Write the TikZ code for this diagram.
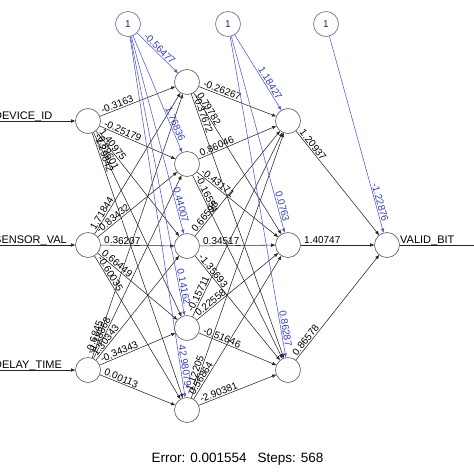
\documentclass[tikz,border=0pt]{standalone}
\usepackage{fontspec}
\setmainfont{Liberation Sans}
\usetikzlibrary{calc,arrows.meta}
\definecolor{biasblue}{RGB}{50,60,200}
\begin{document}
\begin{tikzpicture}[x=1pt,y=-1pt,
    neuron/.style={circle,draw=black!65,line width=0.6pt,minimum size=25pt,inner sep=0pt},
    biasneuron/.style={neuron,draw=biasblue!40!gray,text=biasblue!60!black,font=\fontsize{10}{12}\selectfont},
    wire/.style={draw=black!85,line width=0.55pt,-{Triangle[length=4pt,width=3.2pt]}},
    biaswire/.style={wire,draw=biasblue!85!white},
    weight/.style={font=\fontsize{10}{12}\selectfont,inner sep=1pt,sloped},
    varname/.style={font=\fontsize{11}{13}\selectfont,inner sep=0pt,anchor=base west}]
  \useasboundingbox (0,0) rectangle (474,474);
  \clip (0,0) rectangle (474,474);
  \node[biasneuron] (b1) at (128,24) {1};
  \node[biasneuron] (b2) at (228,24) {1};
  \node[biasneuron] (b3) at (326,24) {1};
  \node[neuron] (i1) at (88,121) {};
  \node[neuron] (i2) at (88,245) {};
  \node[neuron] (i3) at (88,370) {};
  \foreach \k/\y in {1/82,2/164,3/246,4/328,5/410}
    \node[neuron] (h\k) at (187,\y) {};
  \node[neuron] (g1) at (288,121) {};
  \node[neuron] (g2) at (288,245) {};
  \node[neuron] (g3) at (288,370) {};
  \node[neuron] (o) at (387,245) {};
  \foreach \n/\lab in {i1/DEVICE\_ID,i2/SENSOR\_VAL,i3/DELAY\_TIME} {
    \coordinate (\n in) at ($(\n)+(-94,0)$);
    \node[varname] (\n txt) at ($(\n in)+(0,-2)$) {\lab};
    \draw[wire] (\n in) -- (\n);
  }
  \coordinate (oout) at (474,245);
  \draw[draw=black!85,line width=0.55pt] (o) -- (oout);
  \node[varname] (otxt) at (400,243) {VALID\_BIT};
  \foreach \src/\dst/\w in {i1/h1/-0.3163,i1/h2/-0.25179,i1/h3/1.40975,i1/h4/-0.89601,i1/h5/-1.29842,
      i2/h1/1.71844,i2/h2/-0.83432,i2/h3/0.36207,i2/h4/0.66449,i2/h5/-0.60035,
      i3/h1/-0.6845,i3/h2/-1.18868,i3/h3/1.30343,i3/h4/-0.34343,i3/h5/0.00113,
      h1/g1/-0.26267,h1/g2/0.79782,h1/g3/-0.37672,
      h2/g1/0.86046,h2/g2/-0.43171,h2/g3/-0.16554,
      h3/g1/0.66598,h3/g2/0.34517,h3/g3/-1.35693,
      h4/g1/-0.15711,h4/g2/0.22558,h4/g3/-0.51646,
      h5/g1/-1.12205,h5/g2/0.56864,h5/g3/-2.90381,
      g1/o/1.20937,g2/o/1.40747,g3/o/0.86578} {
    \draw[wire] (\src) -- (\dst);
    \path ($(\src)!15pt!(\dst)$) -- (\dst) node[weight,pos=0,anchor=south west] {\w};
  }
  \foreach \src/\dst/\w in {b1/h1/-0.56477,b1/h2/1.76836,b1/h3/0.44007,b1/h4/0.14162,b1/h5/42.98079,
      b2/g1/1.18427,b2/g2/0.0763,b2/g3/0.86287,b3/o/-1.22876} {
    \draw[biaswire] (\src) -- (\dst);
    \path (\src) -- ($(\dst)!22pt!(\src)$) node[weight,pos=1,anchor=south east,text=biasblue] {\w};
  }
  \node[font=\fontsize{13.5}{16}\selectfont,anchor=base] (info) at (237.5,462) {Error: 0.001554\hspace{11pt}Steps: 568};
\end{tikzpicture}
\end{document}
